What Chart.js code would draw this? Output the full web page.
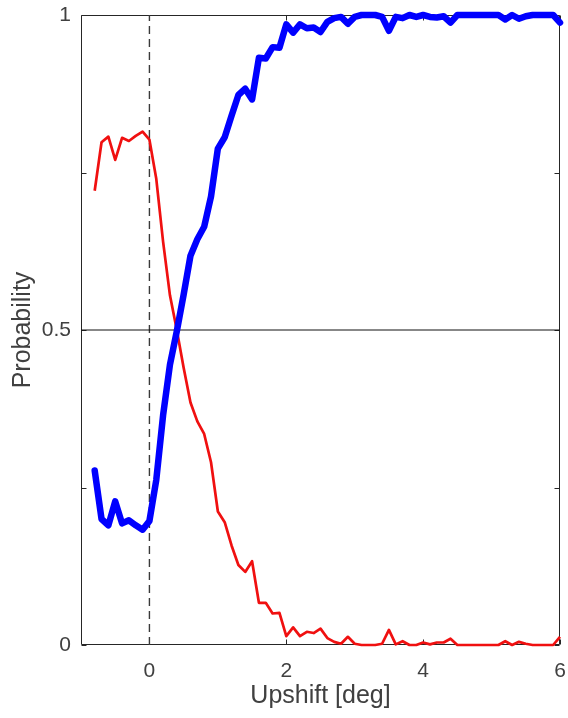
<!DOCTYPE html>
<html>
<head>
<meta charset="utf-8">
<script src="https://cdn.jsdelivr.net/npm/chart.js@4.4.1/dist/chart.umd.min.js"></script>
<style>
  html, body { margin: 0; padding: 0; background: #ffffff; }
  #wrap { width: 568px; height: 718px; }
</style>
</head>
<body>
<div id="wrap"><canvas id="chart" width="568" height="718"></canvas></div>
<script>
// Stimulus upshift (deg), sampled every 0.1 deg
const upshift = [
  -0.8, -0.7, -0.6, -0.5, -0.4, -0.3, -0.2, -0.1, 0.0, 0.1,
  0.2, 0.3, 0.4, 0.5, 0.6, 0.7, 0.8, 0.9, 1.0, 1.1,
  1.2, 1.3, 1.4, 1.5, 1.6, 1.7, 1.8, 1.9, 2.0, 2.1,
  2.2, 2.3, 2.4, 2.5, 2.6, 2.7, 2.8, 2.9, 3.0, 3.1,
  3.2, 3.3, 3.4, 3.5, 3.6, 3.7, 3.8, 3.9, 4.0, 4.1,
  4.2, 4.3, 4.4, 4.5, 4.6, 4.7, 4.8, 4.9, 5.0, 5.1,
  5.2, 5.3, 5.4, 5.5, 5.6, 5.7, 5.8, 5.9, 6.0
];

// Probability of the "down" response (red, thin)
const probDown = [
  0.721, 0.798, 0.807, 0.770, 0.805, 0.800, 0.808, 0.815, 0.802, 0.740,
  0.640, 0.555, 0.500, 0.440, 0.385, 0.355, 0.335, 0.290, 0.212, 0.195,
  0.158, 0.127, 0.116, 0.133, 0.067, 0.067, 0.050, 0.051, 0.014, 0.028,
  0.014, 0.021, 0.019, 0.026, 0.011, 0.005, 0.002, 0.013, 0.002, 0.000,
  0.000, 0.000, 0.002, 0.024, 0.001, 0.006, 0.000, 0.000, 0.004, 0.001,
  0.004, 0.004, 0.010, 0.000, 0.000, 0.000, 0.000, 0.000, 0.000, 0.000,
  0.006, 0.000, 0.005, 0.002, 0.000, 0.000, 0.000, 0.000, 0.013
];

// Probability of the "up" response (blue, thick)
const probUp = [
  0.277, 0.200, 0.190, 0.228, 0.193, 0.198, 0.190, 0.183, 0.197, 0.262,
  0.365, 0.445, 0.498, 0.556, 0.618, 0.644, 0.664, 0.712, 0.788, 0.806,
  0.840, 0.873, 0.883, 0.866, 0.932, 0.931, 0.949, 0.948, 0.985, 0.972,
  0.985, 0.979, 0.980, 0.973, 0.989, 0.995, 0.997, 0.986, 0.997, 1.000,
  1.000, 1.000, 0.997, 0.975, 0.997, 0.995, 1.000, 0.997, 1.000, 0.997,
  0.996, 0.998, 0.988, 1.000, 1.000, 1.000, 1.000, 1.000, 1.000, 1.000,
  0.993, 1.000, 0.994, 0.998, 1.000, 1.000, 1.000, 1.000, 0.988
];

// Axis setup
const xLimits = [-1, 6];
const yLimits = [0, 1];
const xTickValues = [0, 2, 4, 6];
const xTickLabels = ['0', '2', '4', '6'];
const yTickValues = [0, 0.25, 0.5, 0.75, 1];
const yTickLabels = ['0', '', '0.5', '', '1'];
const chanceLevel = 0.5;
const zeroShift = 0;

const toPoints = (xs, ys) => xs.map((x, i) => ({ x: x, y: ys[i] }));

const AXIS_COLOR = '#262626';
const TEXT_COLOR = '#404040';
const FONT = "'Liberation Sans', Arial, Helvetica, sans-serif";

// Fixed axis box sizes; no extra room reserved for label overflow
const fixSize = (size) => (s) => {
  if (s.isHorizontal()) s.height = size; else s.width = size;
  s.paddingTop = 0; s.paddingBottom = 0; s.paddingLeft = 0; s.paddingRight = 0;
};

// Box around the plot with short inward tick marks on all four sides
const boxAxes = {
  id: 'boxAxes',
  beforeDatasetsDraw(chart) {
    const { ctx, chartArea: a, scales } = chart;
    const xs = scales.x, ys = scales.y;
    const L = a.left + 0.5, R = a.right - 0.5, T = a.top + 0.5, B = a.bottom - 0.5;
    const tick = 5;
    ctx.save();
    ctx.strokeStyle = AXIS_COLOR;
    ctx.lineWidth = 1;
    ctx.beginPath();
    ctx.moveTo(L, T); ctx.lineTo(R, T); ctx.lineTo(R, B); ctx.lineTo(L, B); ctx.closePath();
    yTickValues.forEach(v => {
      const py = Math.round(ys.getPixelForValue(v)) + 0.5;
      ctx.moveTo(L, py); ctx.lineTo(L + tick, py);
      ctx.moveTo(R, py); ctx.lineTo(R - tick, py);
    });
    xTickValues.forEach(v => {
      const px = Math.round(xs.getPixelForValue(v)) + 0.5;
      ctx.moveTo(px, B); ctx.lineTo(px, B - tick);
      ctx.moveTo(px, T); ctx.lineTo(px, T + tick);
    });
    ctx.stroke();
    ctx.restore();
  }
};

new Chart(document.getElementById('chart'), {
  type: 'line',
  data: {
    datasets: [
      {
        label: 'up',
        data: toPoints(upshift, probUp),
        borderColor: '#0000ff',
        borderWidth: 6.5,
        borderJoinStyle: 'round',
        borderCapStyle: 'round',
        pointRadius: 0,
        tension: 0,
        clip: false,
        order: 0
      },
      {
        label: 'down',
        data: toPoints(upshift, probDown),
        borderColor: '#f01010',
        borderWidth: 2.7,
        borderJoinStyle: 'round',
        pointRadius: 0,
        tension: 0,
        clip: false,
        order: 1
      },
      {
        label: 'chance',
        data: [{ x: xLimits[0], y: chanceLevel }, { x: xLimits[1], y: chanceLevel }],
        borderColor: '#111111',
        borderWidth: 1,
        pointRadius: 0,
        order: 2
      },
      {
        label: 'zero',
        data: [{ x: zeroShift, y: yLimits[0] }, { x: zeroShift, y: yLimits[1] }],
        borderColor: '#3a3a3a',
        borderWidth: 1.4,
        borderDash: [8, 5],
        pointRadius: 0,
        order: 3
      }
    ]
  },
  options: {
    responsive: false,
    animation: false,
    devicePixelRatio: 1,
    layout: { padding: { left: 0, right: 8, top: 15, bottom: 0 } },
    plugins: { legend: { display: false }, tooltip: { enabled: false } },
    scales: {
      x: {
        type: 'linear',
        min: xLimits[0],
        max: xLimits[1],
        grid: { display: false, drawTicks: false },
        border: { display: false },
        afterBuildTicks: s => { s.ticks = xTickValues.map(v => ({ value: v })); },
        afterFit: fixSize(73),
        ticks: {
          color: TEXT_COLOR,
          font: { family: FONT, size: 21 },
          padding: 14,
          maxRotation: 0,
          callback: v => xTickLabels[xTickValues.indexOf(v)]
        },
        title: {
          display: true,
          text: 'Upshift [deg]',
          color: TEXT_COLOR,
          font: { family: FONT, size: 25 },
          padding: { top: 0, bottom: 7 }
        }
      },
      y: {
        type: 'linear',
        min: yLimits[0],
        max: yLimits[1],
        grid: { display: false, drawTicks: false },
        border: { display: false },
        afterBuildTicks: s => { s.ticks = yTickValues.map(v => ({ value: v })); },
        afterFit: fixSize(81),
        ticks: {
          color: TEXT_COLOR,
          font: { family: FONT, size: 21 },
          padding: 10,
          callback: v => yTickLabels[yTickValues.indexOf(v)]
        },
        title: {
          display: true,
          text: 'Probability',
          color: TEXT_COLOR,
          font: { family: FONT, size: 25 },
          padding: { top: 8, bottom: 0 }
        }
      }
    }
  },
  plugins: [boxAxes]
});
</script>
</body>
</html>
